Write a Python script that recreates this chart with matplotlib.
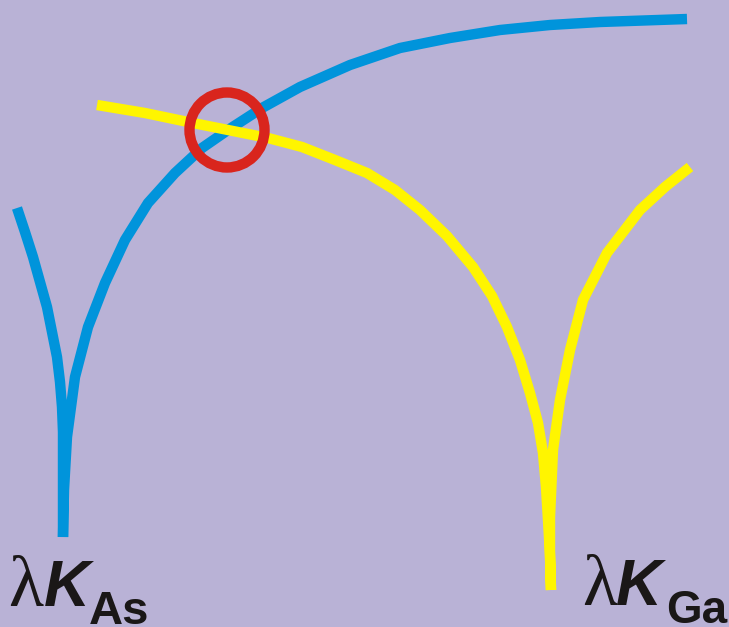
import matplotlib
matplotlib.use("Agg")
import matplotlib.pyplot as plt
from matplotlib.patches import Circle

# curves, in pixel coordinates (y grows downward)
blue_x = [17, 25, 33, 40, 47, 52, 57, 60, 62, 63, 63, 63,
          64, 67, 75, 88, 105, 125, 148, 175, 202, 228, 262, 300,
          350, 400, 450, 500, 550, 600, 687]
blue_y = [208, 232, 257, 282, 307, 332, 357, 382, 407, 432, 457, 537,
          490, 437, 377, 327, 283, 240, 203, 173, 148, 130, 108, 87,
          65, 48, 38, 30, 25, 22, 19]

yellow_x = [97, 145, 188, 228, 268, 302, 335, 367, 395, 420, 447, 473, 492, 507,
            520, 530, 538, 543, 546, 548, 550, 551,
            550, 550, 553, 560, 570, 583, 607, 640, 665, 690]
yellow_y = [105, 113, 122, 130, 138, 147, 160, 173, 190, 210, 236, 267, 296, 327,
            360, 393, 423, 453, 487, 520, 555, 590,
            555, 517, 450, 400, 350, 300, 253, 210, 187, 167]

ring_center = (227, 130)
ring_radius = 37.5

bg = "#B9B2D6"
fig = plt.figure(figsize=(7.29, 6.27), dpi=100, facecolor=bg)
ax = fig.add_axes([0, 0, 1, 1])
ax.set_facecolor(bg)
ax.set_xlim(0, 729)
ax.set_ylim(627, 0)
ax.axis("off")

ax.plot(blue_x, blue_y, color="#0094DB", lw=7.5, solid_capstyle="butt", solid_joinstyle="miter")
ax.plot(yellow_x, yellow_y, color="#FFF500", lw=7.5, solid_capstyle="butt", solid_joinstyle="miter", zorder=3)
ax.add_patch(Circle(ring_center, ring_radius, fill=False, ec="#D9251D", lw=7.5, zorder=4))

txt = dict(color="#1A1717", va="baseline", ha="left")
# left label
ax.text(8, 606, "λ", fontsize=52, family="Liberation Serif", **txt)
ax.text(44, 606, "K", fontsize=46, family="Liberation Sans", fontweight="bold", fontstyle="italic", **txt)
ax.text(89, 624, "As", fontsize=34, family="Liberation Sans", fontweight="bold", **txt)
# right label
ax.text(582, 605, "λ", fontsize=52, family="Liberation Serif", **txt)
ax.text(616, 605, "K", fontsize=46, family="Liberation Sans", fontweight="bold", fontstyle="italic", **txt)
ax.text(666, 623, "Ga", fontsize=33, family="Liberation Sans", fontweight="bold", **txt)

plt.savefig("out.png", dpi=100, facecolor=bg)
